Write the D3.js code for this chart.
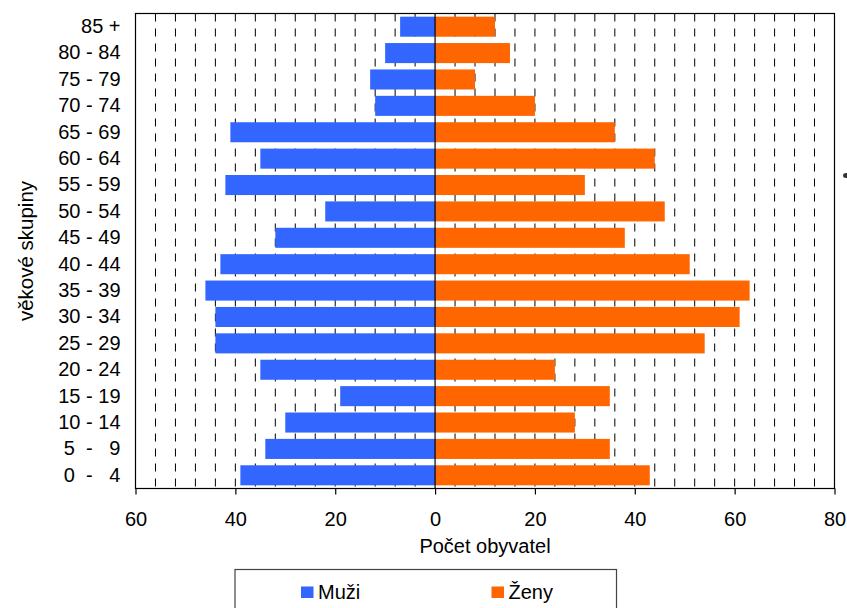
<!DOCTYPE html>
<html>
<head>
<meta charset="utf-8">
<script src="https://cdn.jsdelivr.net/npm/d3@7"></script>
<style>
	body { margin: 0; background: #fff; }
	svg { font-family: "Liberation Sans", Arial, sans-serif; }
</style>
</head>
<body>
<div id="chart"></div>
<script>

// age groups, bottom to top
const ageGroups = [ "0  -   4", "5  -   9", "10 - 14", "15 - 19", "20 - 24", "25 - 29", "30 - 34", "35 - 39", "40 - 44",
	"45 - 49", "50 - 54", "55 - 59", "60 - 64", "65 - 69", "70 - 74", "75 - 79", "80 - 84", "85 +" ];

const muzi = [ 39, 34, 30, 19, 35, 44, 44, 46, 43, 32, 22, 42, 35, 41, 12, 13, 10, 7 ];
const zeny = [ 43, 35, 28, 35, 24, 54, 61, 63, 51, 38, 46, 30, 44, 36, 20, 8, 15, 12 ];

const xTicks = [ -60, -40, -20, 0, 20, 40, 60, 80 ];
const seriesNames = [ "Muži", "Ženy" ];
const colors = [ "#3366FF", "#FF6600" ];

let margin = { top: 13.5, left: 135.5, right: 12.5, bottom: 119.5 };
let W = 847, H = 608;
let width = W - margin.left - margin.right;
let height = H - margin.top - margin.bottom;

let svg = d3.select( "#chart" ).append( "svg" )
	.attr( "width", W )
	.attr( "height", H );

let g = svg.append( "g" ).attr( "transform", "translate(" + margin.left + "," + margin.top + ")" );

let x = d3.scaleLinear()
	.domain( [ -60, 80 ] )
	.range( [ 0, width ] );

let y = d3.scaleBand()
	.domain( ageGroups.slice().reverse() )
	.range( [ 0, height ] )
	.paddingInner( 0.24 )
	.paddingOuter( 0.12 );

// dashed grid every 4 units
let grid = d3.range( -56, 80, 4 ).filter( d => d !== 0 );
g.selectAll( ".grid" )
	.data( grid )
	.enter().append( "line" )
		.attr( "x1", d => x( d ) )
		.attr( "x2", d => x( d ) )
		.attr( "y1", 0 )
		.attr( "y2", height )
		.attr( "stroke", "#000" )
		.attr( "stroke-width", 1 )
		.attr( "stroke-dasharray", "8,7" );

// bars
g.selectAll( ".muzi" )
	.data( muzi )
	.enter().append( "rect" )
		.attr( "x", d => x( -d ) )
		.attr( "y", ( d, i ) => y( ageGroups[ i ] ) )
		.attr( "width", d => x( 0 ) - x( -d ) )
		.attr( "height", y.bandwidth() )
		.attr( "fill", colors[ 0 ] );

g.selectAll( ".zeny" )
	.data( zeny )
	.enter().append( "rect" )
		.attr( "x", x( 0 ) )
		.attr( "y", ( d, i ) => y( ageGroups[ i ] ) )
		.attr( "width", d => x( d ) - x( 0 ) )
		.attr( "height", y.bandwidth() )
		.attr( "fill", colors[ 1 ] );

// zero line
g.append( "line" )
	.attr( "x1", x( 0 ) )
	.attr( "x2", x( 0 ) )
	.attr( "y1", 0 )
	.attr( "y2", height )
	.attr( "stroke", "#000" )
	.attr( "stroke-width", 1.2 );

// plot frame
g.append( "rect" )
	.attr( "width", width )
	.attr( "height", height )
	.attr( "fill", "none" )
	.attr( "stroke", "#000" )
	.attr( "stroke-width", 1.2 );

// x axis
let xAxis = g.append( "g" )
	.attr( "transform", "translate(0," + height + ")" )
	.call( d3.axisBottom( x ).tickValues( xTicks ).tickFormat( d => Math.abs( d ) ).tickSize( 6 ).tickPadding( 17 ) );
xAxis.select( ".domain" ).remove();
xAxis.selectAll( "line" ).attr( "stroke", "#000" ).attr( "stroke-width", 1.2 );
xAxis.selectAll( "text" )
	.attr( "fill", "#000" )
	.style( "font-size", "20px" )
	.style( "font-family", "'Liberation Sans', Arial, sans-serif" );

// y axis
let yAxis = g.append( "g" )
	.call( d3.axisLeft( y ).tickSize( 0 ).tickPadding( 15 ) );
yAxis.select( ".domain" ).remove();
yAxis.selectAll( "text" )
	.attr( "fill", "#000" )
	.style( "white-space", "pre" )
	.style( "font-size", "20px" )
	.style( "font-family", "'Liberation Sans', Arial, sans-serif" );

// axis titles
svg.append( "text" )
	.attr( "x", margin.left + width / 2 )
	.attr( "y", 553 )
	.attr( "text-anchor", "middle" )
	.style( "font-size", "20px" )
	.text( "Počet obyvatel" );

svg.append( "text" )
	.attr( "transform", "translate(33," + ( margin.top + height / 2 ) + ") rotate(-90)" )
	.attr( "text-anchor", "middle" )
	.style( "font-size", "20.5px" )
	.text( "věkové skupiny" );

// legend
let legend = svg.append( "g" );
legend.append( "rect" )
	.attr( "x", 235 )
	.attr( "y", 569.5 )
	.attr( "width", 381.5 )
	.attr( "height", 60 )
	.attr( "fill", "#fff" )
	.attr( "stroke", "#444" )
	.attr( "stroke-width", 1.2 );

let legendX = [ 301, 491.5 ];
seriesNames.forEach( ( name, i ) => {
	legend.append( "rect" )
		.attr( "x", legendX[ i ] )
		.attr( "y", 586.5 )
		.attr( "width", 12.5 )
		.attr( "height", 11.5 )
		.attr( "fill", colors[ i ] );
	legend.append( "text" )
		.attr( "x", legendX[ i ] + 17 )
		.attr( "y", 599 )
		.style( "font-size", "20px" )
		.text( name );
});

// small mark at the right edge of the picture
svg.append( "ellipse" )
	.attr( "cx", 846 )
	.attr( "cy", 175.5 )
	.attr( "rx", 3 )
	.attr( "ry", 2.5 )
	.attr( "fill", "#333" );

</script>
</body>
</html>
